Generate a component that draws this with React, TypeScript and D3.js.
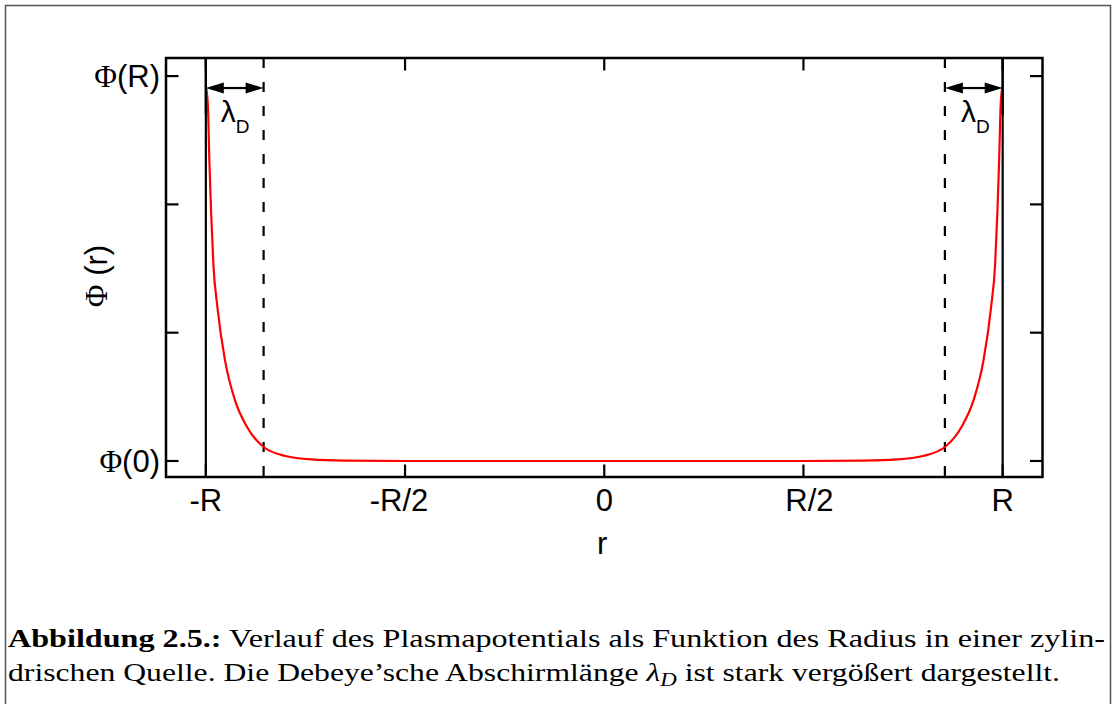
import React from "react";
import * as d3 from "d3";

// Curve data (r in units of R, Φ normalised: Φ(0)=0, Φ(R)=1)
const rValues = [
  -1.0, -0.995, -0.9912, -0.987, -0.981, -0.971, -0.952, -0.927, -0.897, -0.856, -0.8, -0.736, -0.649, -0.5, -0.3, 0,
  0.3, 0.5, 0.649, 0.736, 0.8, 0.856, 0.897, 0.927, 0.952, 0.971, 0.981, 0.987, 0.9912, 0.995, 1.0,
];
const phiValues = [
  0.975, 0.925, 0.782, 0.652, 0.509, 0.4, 0.262, 0.158, 0.089, 0.037, 0.013, 0.004, 0.001, 0, 0, 0,
  0, 0, 0.001, 0.004, 0.013, 0.037, 0.089, 0.158, 0.262, 0.4, 0.509, 0.652, 0.782, 0.925, 0.975,
];
const xTickValues = [-1, -0.5, 0, 0.5, 1];
const xTickLabels = ["-R", "-R/2", "0", "R/2", "R"];
const yTickValues = [0, 1 / 3, 2 / 3, 1];
const yTickLabels = ["(0)", "", "", "(R)"];
const lambdaD = 0.145;
const arrowLevel = 0.969;

const W = 1114;
const H = 704;

export default function App() {
  const x = d3.scaleLinear().domain([-1.1, 1.1]).range([166, 1042.5]);
  const y = d3.scaleLinear().domain([-0.0416, 1.047]).range([477, 58]);
  const [x0, x1] = x.range();
  const [yb, yt] = y.range();

  const pts: [number, number][] = rValues.map((r, i) => [r, phiValues[i]]);
  const line = d3
    .line<[number, number]>()
    .x((d) => x(d[0]))
    .y((d) => y(d[1]))
    .curve(d3.curveMonotoneX);

  const tickLen = 12.5;
  const fs = 31;
  const sans = "'Liberation Sans', Arial, sans-serif";
  const serif = "'Liberation Serif', 'Times New Roman', serif";

  const arrow = (from: number, to: number) => {
    const xa = x(from);
    const xb = x(to);
    const ya = y(arrowLevel);
    const hl = 18;
    const hw = 5.5;
    return (
      <g>
        <line x1={xa + hl - 2} x2={xb - hl + 2} y1={ya} y2={ya} stroke="#000" strokeWidth={2.2} />
        <polygon points={`${xa},${ya} ${xa + hl},${ya - hw} ${xa + hl},${ya + hw}`} fill="#000" />
        <polygon points={`${xb},${ya} ${xb - hl},${ya - hw} ${xb - hl},${ya + hw}`} fill="#000" />
      </g>
    );
  };

  const lambdaLabel = (xl: number) => (
    <text x={xl} y={122} fontFamily={sans} fontSize={30} fill="#000">
      λ
      <tspan fontSize={19} dy={11}>
        D
      </tspan>
    </text>
  );

  return (
    <svg
      width={W}
      height={H}
      style={{ position: "absolute", left: 0, top: 0, background: "#fff" }}
      xmlns="http://www.w3.org/2000/svg"
    >
      <rect x={0} y={0} width={W} height={H} fill="#fff" />
      {/* outer figure frame */}
      <rect x={5.5} y={5.5} width={1105} height={703} fill="none" stroke="#555" strokeWidth={1.5} />

      {/* vertical boundary lines at ±R */}
      {[-1, 1].map((v) => (
        <line key={"b" + v} x1={x(v)} x2={x(v)} y1={yt} y2={yb} stroke="#000" strokeWidth={2.2} />
      ))}
      {/* dashed Debye lines */}
      {[-1 + lambdaD, 1 - lambdaD].map((v) => (
        <line
          key={"d" + v}
          x1={x(v)}
          x2={x(v)}
          y1={yt}
          y2={yb}
          stroke="#000"
          strokeWidth={2.2}
          strokeDasharray="10 14"
        />
      ))}

      {/* curve */}
      <path d={line(pts) || ""} fill="none" stroke="#ff0000" strokeWidth={2.2} />
      {/* boundary lines drawn again over the curve ends */}
      {[-1, 1].map((v) => (
        <line key={"bb" + v} x1={x(v)} x2={x(v)} y1={yt} y2={y(0.9)} stroke="#000" strokeWidth={2.2} />
      ))}

      {/* arrows */}
      {arrow(-1, -1 + lambdaD)}
      {arrow(1 - lambdaD, 1)}
      {lambdaLabel(x(-1) + 15)}
      {lambdaLabel(x(1 - lambdaD) + 16)}

      {/* frame */}
      <rect x={x0} y={yt} width={x1 - x0} height={yb - yt} fill="none" stroke="#000" strokeWidth={2.5} />

      {/* x ticks */}
      {xTickValues.map((v, i) => (
        <g key={"xt" + i}>
          <line x1={x(v)} x2={x(v)} y1={yb} y2={yb - tickLen} stroke="#000" strokeWidth={2.2} />
          <line x1={x(v)} x2={x(v)} y1={yt} y2={yt + tickLen} stroke="#000" strokeWidth={2.2} />
          <text
            x={x(v) + (v === 0.5 ? 6 : v === -0.5 ? -6 : 0)}
            y={511}
            textAnchor="middle"
            fontFamily={sans}
            fontSize={fs}
            fill="#000"
          >
            {xTickLabels[i]}
          </text>
        </g>
      ))}

      {/* y ticks */}
      {yTickValues.map((v, i) => (
        <g key={"yt" + i}>
          <line x1={x0} x2={x0 + tickLen} y1={y(v)} y2={y(v)} stroke="#000" strokeWidth={2.2} />
          <line x1={x1} x2={x1 - tickLen} y1={y(v)} y2={y(v)} stroke="#000" strokeWidth={2.2} />
          {yTickLabels[i] && (
            <text x={x0 - 6} y={y(v) + 11} textAnchor="end" fontSize={fs} fill="#000">
              <tspan fontFamily={serif}>Φ</tspan>
              <tspan fontFamily={sans}>{yTickLabels[i]}</tspan>
            </text>
          )}
        </g>
      ))}

      {/* axis titles */}
      <text x={(x0 + x1) / 2 - 2} y={554} textAnchor="middle" fontFamily={sans} fontSize={fs} fill="#000">
        r
      </text>
      <text
        transform={`translate(107, 276) rotate(-90)`}
        textAnchor="middle"
        fontSize={fs}
        fill="#000"
      >
        <tspan fontFamily={serif}>Φ</tspan>
        <tspan fontFamily={sans}> (r)</tspan>
      </text>

      {/* caption */}
      <text
        x={8}
        y={647}
        fontFamily={serif}
        fontSize={25}
        fill="#000"
        textLength={1097}
        lengthAdjust="spacingAndGlyphs"
      >
        <tspan fontWeight="bold">Abbildung 2.5.:</tspan>
        <tspan> Verlauf des Plasmapotentials als Funktion des Radius in einer zylin-</tspan>
      </text>
      <text
        x={8}
        y={681}
        fontFamily={serif}
        fontSize={25}
        fill="#000"
        textLength={1052}
        lengthAdjust="spacingAndGlyphs"
      >
        drischen Quelle. Die Debeye’sche Abschirmlänge <tspan fontStyle="italic">λ</tspan>
        <tspan fontStyle="italic" fontSize={18} dy={5}>D</tspan>
        <tspan dy={-5}> ist stark vergößert dargestellt.</tspan>
      </text>
    </svg>
  );
}
